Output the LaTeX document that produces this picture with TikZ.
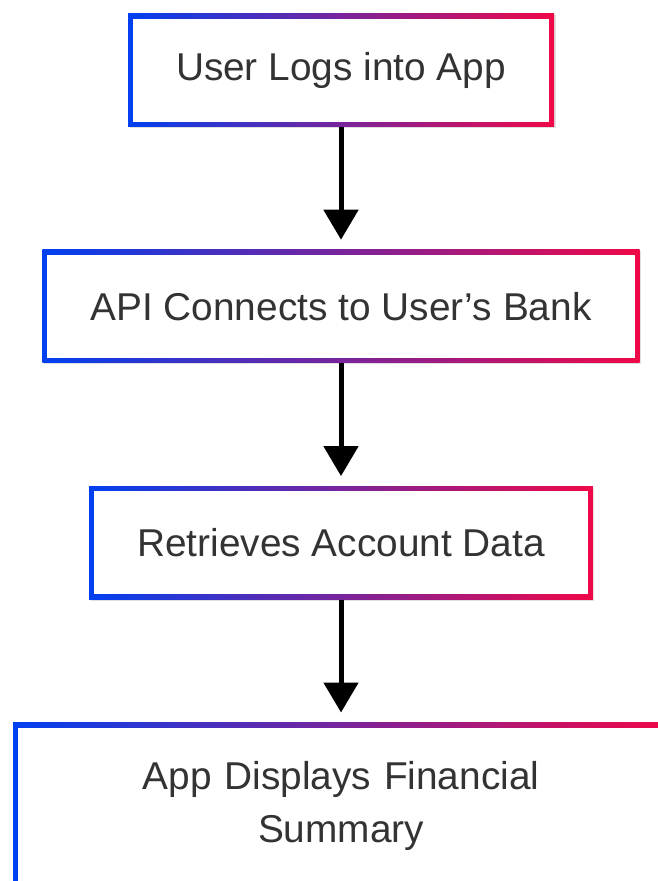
\documentclass[tikz,border=0pt]{standalone}
\usepackage{fontspec}
\setmainfont{Liberation Sans}
\usepackage{xcolor}
\usepackage{tikz}
\usetikzlibrary{positioning,arrows.meta,shadows}
\definecolor{edgeblue}{RGB}{0,64,240}
\definecolor{edgered}{RGB}{240,8,72}
\definecolor{textgray}{RGB}{51,51,51}
\tikzstyle{stepbox} = [rectangle, inner xsep=48pt, minimum height=113pt, align=center, text=textgray, font=\fontsize{38.8pt}{53pt}\selectfont, drop shadow={shadow xshift=1.5pt, shadow yshift=-1.5pt, opacity=0.12, fill=black}, path picture={
  \shade[left color=edgeblue, right color=edgered] (path picture bounding box.south west) rectangle (path picture bounding box.north east);
  \fill[white] ([shift={(5pt,5pt)}]path picture bounding box.south west) rectangle ([shift={(-5pt,-5pt)}]path picture bounding box.north east);}]
\tikzstyle{arrow} = [line width=5pt,-{Triangle[width=34pt,length=30pt]},shorten >=10pt]

\begin{document}
\begin{tikzpicture}[node distance = 123pt]
	\useasboundingbox (0,0) rectangle (657pt,-881pt);

	\node (login) [stepbox] at (341pt,-70pt) {User Logs into App};
	\node (connect) [stepbox,below=of login] {API Connects to User’s Bank};
	\node (retrieve) [stepbox,below=of connect] {Retrieves Account Data};
	\node (summary) [stepbox,below=of retrieve,text width=560pt,minimum height=166pt] {App Displays Financial\\Summary};

	\draw [arrow] (login) -- (connect);
	\draw [arrow] (connect) -- (retrieve);
	\draw [arrow] (retrieve) -- (summary);

\end{tikzpicture}
\end{document}
